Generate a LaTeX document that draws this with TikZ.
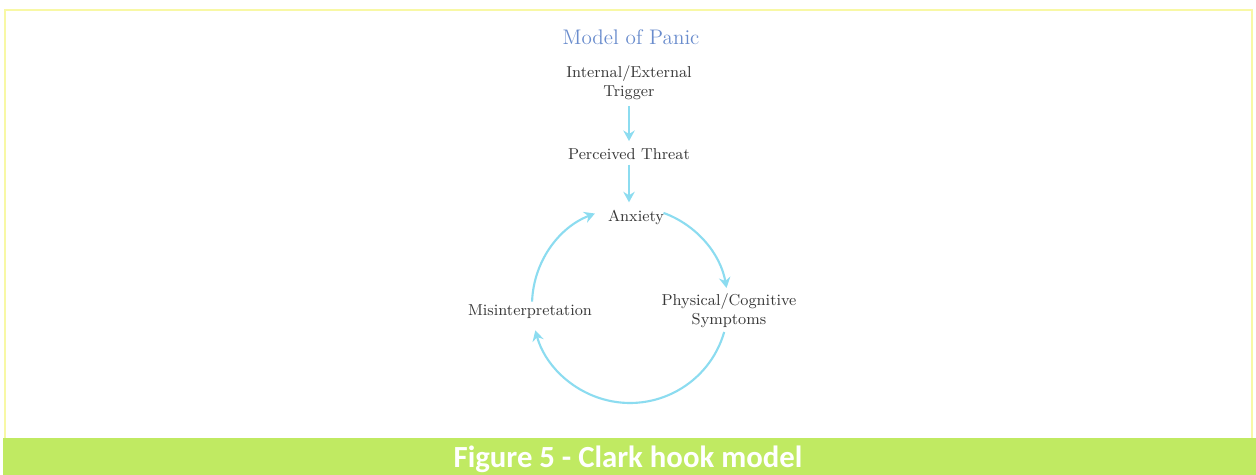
\documentclass[tikz,border=0pt]{standalone}
\usepackage{fontspec}
\newfontfamily\capfont{Carlito}
\usepackage{tikz}
\usetikzlibrary{arrows.meta}

\definecolor{panicblue}{RGB}{105,140,205}
\definecolor{loopcyan}{RGB}{140,220,240}
\definecolor{framey}{RGB}{248,248,165}
\definecolor{barg}{RGB}{192,234,98}
\definecolor{txtgrey}{RGB}{55,55,55}

\tikzset{
  lbl/.style={text=txtgrey, font=\fontsize{9}{11}\selectfont, align=center, inner sep=1pt},
  flow/.style={loopcyan, line width=1.2pt, -{Stealth[length=6pt,width=6.5pt,inset=2pt]}}
}

\begin{document}
\begin{tikzpicture}[x=0.02cm, y=0.02cm]
  % page and frame
  \useasboundingbox (0,0) rectangle (1256,475);
  \fill[white] (0,0) rectangle (1256,475);
  \fill[barg] (3,0) rectangle (1256,37);
  \draw[framey, line width=1.4pt] (5,37) -- (5,465) -- (1252,465) -- (1252,37);
  \node[text=white, font=\capfont\bfseries\fontsize{17.5}{20}\selectfont, anchor=base] (cap) at (628,7) {Figure 5 - Clark hook model};

  % the model
  \node[text=panicblue, font=\fontsize{12}{14}\selectfont] (title) at (631,438) {Model of Panic};
  \node[lbl] (trig) at (629,392) {Internal/External\\Trigger};
  \node[lbl] (threat) at (629,321) {Perceived Threat};
  \node[lbl] (anx) at (636,258) {Anxiety};
  \node[lbl] (phys) at (729,164) {Physical/Cognitive\\Symptoms};
  \node[lbl] (mis) at (530,163) {Misinterpretation};
  \coordinate (ctr) at (630,170);

  \draw[flow] (trig.south) ++(0,-4) -- ([yshift=3pt]threat.north);
  \draw[flow] (threat.south) ++(0,-3) -- ([yshift=3pt]threat.south |- anx.north);

  % the loop
  \draw[flow] (ctr) ++(70:1.96cm) arc[start angle=70, end angle=10, radius=1.96cm];
  \draw[flow] (ctr) ++(-16:1.96cm) arc[start angle=-16, end angle=-165, radius=1.96cm];
  \draw[flow] (ctr) ++(178:1.96cm) arc[start angle=178, end angle=111, radius=1.96cm];
\end{tikzpicture}
\end{document}
